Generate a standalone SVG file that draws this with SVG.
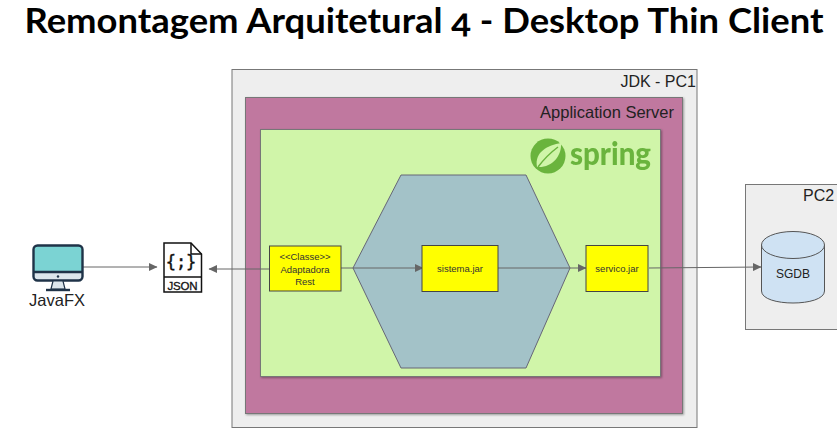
<svg xmlns="http://www.w3.org/2000/svg" width="837" height="431" viewBox="0 0 837 431">
<style>
text{font-family:"Liberation Sans",Arial,sans-serif;fill:#222}
.c{text-anchor:middle}
.box{stroke:#777;stroke-width:1}
.y{fill:#ffff00;stroke:#444;stroke-width:1}
.small{font-size:9.500px;fill:#333}
.conn{stroke:#666;stroke-width:1;fill:none}
.ico{stroke:#1f3348;stroke-width:2.400;fill:none}
</style>
<defs>
<marker id="a" markerWidth="9" markerHeight="8" refX="8" refY="4" orient="auto-start-reverse" markerUnits="userSpaceOnUse"><path d="M0 0L8.500 4L0 8z" fill="#666"/></marker>
<filter id="s" x="-5%" y="-5%" width="110%" height="110%"><feDropShadow dx="1" dy="1" stdDeviation="1" flood-color="#000" flood-opacity=".35"/></filter>
<filter id="b" x="-10%" y="-10%" width="120%" height="120%"><feGaussianBlur stdDeviation="0.700"/></filter>
</defs>
<rect width="837" height="431" fill="#fff"/>
<text id="title" x="424" y="33" class="c" font-size="34" font-weight="700" textLength="799" lengthAdjust="spacingAndGlyphs" style="font-family:Lato,'Liberation Sans',sans-serif;fill:#000;font-variant-numeric:oldstyle-nums">Remontagem Arquitetural 4 - Desktop Thin Client</text>

<g id="jdk-pc1"><rect class="box" x="232" y="69.500" width="465" height="358" fill="#eeeeee"/><text x="696" y="87" font-size="16" text-anchor="end">JDK - PC1</text></g>
<g id="application-server"><rect class="box" x="245.500" y="97.500" width="437" height="316" fill="#c0789f" filter="url(#s)"/><text x="674" y="118" font-size="16.500" text-anchor="end">Application Server</text></g>
<g id="spring"><rect class="box" x="260.500" y="129.500" width="400" height="247" fill="#d0f5a9" filter="url(#s)"/>
<g id="spring-logo" filter="url(#b)"><circle cx="548" cy="156" r="17.500" fill="#6ab43e"/><path d="M537 167C534 152 548 145 561 143C562 156 552 168 537 167Z" fill="#d0f5a9"/><path d="M538 167C544 159 550 153 558 147" stroke="#6ab43e" stroke-width="1.500" fill="none"/><text x="570" y="165" font-size="32" font-weight="900" textLength="81" lengthAdjust="spacingAndGlyphs" style="fill:#6ab43e;font-family:Lato,'Liberation Sans',sans-serif">spring</text></g></g>
<g id="hexagon"><polygon points="401,175 526,175 570,268 526,368 401,368 353,268" fill="#a3c2c8" stroke="#667" stroke-width="1"/></g>
<g id="pc2"><rect class="box" x="745.500" y="184.500" width="100" height="145" fill="#eeeeee"/><text x="803" y="201" font-size="16">PC2</text></g>

<g id="connectors">
<line class="conn" x1="83" y1="267" x2="157" y2="267" marker-end="url(#a)"/>
<line class="conn" x1="269" y1="269" x2="209" y2="269" marker-end="url(#a)"/>
<line class="conn" x1="341" y1="268" x2="423" y2="268" marker-end="url(#a)"/>
<line class="conn" x1="498" y1="268" x2="586" y2="268" marker-end="url(#a)"/>
<line class="conn" x1="649" y1="268" x2="761" y2="267" marker-end="url(#a)"/>
</g>

<g id="adaptadora"><rect class="y" x="269.500" y="246" width="71.500" height="45"/><text class="c" x="305" y="260" font-size="9.500" style="fill:#333">&lt;&lt;Classe&gt;&gt;</text><text class="c small" x="305" y="272.500">Adaptadora</text><text class="c small" x="305" y="284.500">Rest</text></g>
<g id="sistema"><rect class="y" x="422" y="245.500" width="76" height="46"/><text class="c small" x="460" y="272">sistema.jar</text></g>
<g id="servico"><rect class="y" x="586" y="245.500" width="62" height="46"/><text class="c small" x="617" y="272">servico.jar</text></g>

<g id="sgdb"><path d="M761.500 245V291C761.500 307 824.500 307 824.500 291V245" fill="#cfe2f3" stroke="#555"/><ellipse cx="793" cy="245" rx="31.500" ry="13.500" fill="#cfe2f3" stroke="#555"/><text class="c" x="793" y="278" font-size="12">SGDB</text></g>

<g id="javafx">
<rect x="33.500" y="245.500" width="49" height="35" rx="4" fill="#7bd3d3"/>
<path d="M34 272H82V276a4 4 0 0 1-4 4H38a4 4 0 0 1-4-4Z" fill="#dce6ec"/>
<path class="ico" d="M33.500 272H82.500"/>
<rect x="33.500" y="245.500" width="49" height="35" rx="4" class="ico"/>
<circle cx="58" cy="276.500" r="1.200" fill="#1f3348"/>
<path d="M53 281L51 289H65L63 281Z" fill="#dce6ec" stroke="#1f3348" stroke-width="1.200"/>
<path class="ico" d="M46 290H70"/>
<text class="c" x="57" y="306" font-size="16.500">JavaFX</text>
</g>

<g id="json">
<path d="M164 243H191L201.500 254V292H164Z" fill="#fff" stroke="#111" stroke-width="1.500"/>
<path d="M191 243V254H201.500" fill="none" stroke="#111" stroke-width="1.500"/>
<path d="M164 277H201.500" stroke="#111" stroke-width="1.500"/>
<text class="c" x="181" y="268" font-size="17" style="font-family:'DejaVu Sans Mono',monospace;fill:#111;stroke:#111;stroke-width:.4">{;}</text>
<text class="c" x="182.500" y="290" font-size="11.500" style="fill:#111;stroke:#111;stroke-width:.3" textLength="30">JSON</text>
</g>
</svg>
